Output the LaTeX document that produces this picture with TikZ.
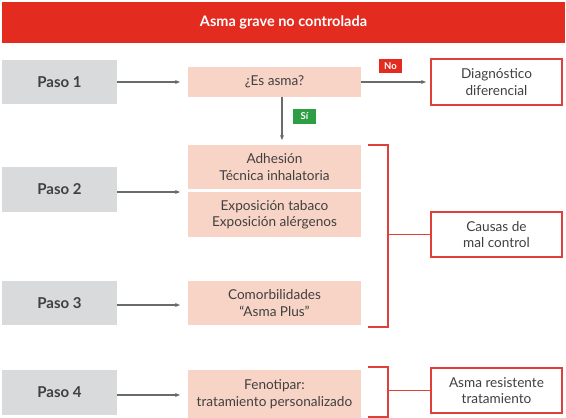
\documentclass[tikz,border=0pt]{standalone}
\usepackage{fontspec}
\setmainfont{Lato}
\usetikzlibrary{arrows.meta,calc}
\definecolor{titred}{HTML}{E32B1F}
\definecolor{pinkbox}{HTML}{F8D4C6}
\definecolor{graybox}{HTML}{D9DADC}
\definecolor{txt}{HTML}{404040}
\definecolor{arrgray}{HTML}{6A6A6A}
\definecolor{linered}{HTML}{E0403A}
\definecolor{okgreen}{HTML}{2E9E45}
\tikzset{
  pasobox/.style={fill=graybox, minimum width=115pt, minimum height=44pt, inner sep=0pt, font=\bfseries\fontsize{15}{17}\selectfont, text=txt},
  pinkb/.style={fill=pinkbox, minimum width=173pt, inner sep=0pt, align=center, font=\fontsize{13.6}{16.5}\selectfont, text=txt},
  redb/.style={draw=linered, line width=1.3pt, fill=white, minimum width=131pt, minimum height=45pt, inner sep=0pt, align=center, font=\fontsize{13.6}{16.5}\selectfont, text=txt},
  tag/.style={minimum width=23pt, minimum height=14pt, inner sep=0pt, text=white, font=\bfseries\fontsize{9.5}{10}\selectfont},
  garrow/.style={draw=arrgray, line width=1.1pt, -{Stealth[length=5pt,width=4pt]}},
  rline/.style={draw=linered, line width=1.4pt}
}
\begin{document}
\begin{tikzpicture}[x=1pt,y=-1pt]
\useasboundingbox (0,0) rectangle (566,418);
% title
\node[fill=titred, minimum width=563pt, minimum height=41pt, inner sep=0pt, text=white, font=\bfseries\fontsize{14.5}{16}\selectfont] (title) at (283.5,22.5) {Asma grave no controlada};
% paso boxes
\node[pasobox] (p1) at (59.5,82) {Paso 1};
\node[pasobox, minimum height=45pt] (p2) at (59.5,189.5) {Paso 2};
\node[pasobox] (p3) at (59.5,303) {Paso 3};
\node[pasobox, minimum height=45pt] (p4) at (59.5,392.5) {Paso 4};
% pink boxes
\node[pinkb, minimum height=30pt] (esasma) at (274.5,82) {¿Es asma?};
\node[pinkb, minimum height=44pt] (adh) at (274.5,167) {Adhesión\\Técnica inhalatoria};
\node[pinkb, minimum height=45pt] (expo) at (274.5,214.5) {Exposición tabaco\\Exposición alérgenos};
\node[pinkb, minimum height=44pt] (comor) at (274.5,303) {Comorbilidades\\“Asma Plus”};
\node[pinkb, minimum height=48pt] (feno) at (274.5,394) {Fenotipar:\\tratamiento personalizado};
% right boxes
\node[redb, minimum height=46pt] (diag) at (496.5,82) {Diagnóstico\\diferencial};
\node[redb] (causas) at (496.5,234.5) {Causas de\\mal control};
\node[redb] (resist) at (496.5,390.5) {Asma resistente\\tratamiento};
% tags
\node[tag, fill=titred] (no) at (390.5,66) {No};
\node[tag, fill=okgreen, minimum height=15pt] (si) at (304.5,116.5) {Sí};
% arrows
\coordinate (t1) at (180,82);
\coordinate (t2) at (180,192);
\coordinate (t3) at (180,305);
\coordinate (t4) at (180,395);
\draw[garrow] (p1.east) -- (t1);
\draw[garrow] (p2.east |- t2) -- (t2);
\draw[garrow] (p3.east |- t3) -- (t3);
\draw[garrow] (p4.east |- t4) -- (t4);
\coordinate (tdown) at (282,140);
\draw[garrow] (esasma.south -| tdown) -- (tdown);
\coordinate (tno) at (426,82);
\draw[garrow] (esasma.east) -- (tno);
% brackets
\coordinate (b1a) at (368,145);
\coordinate (b1b) at (368,327);
\draw[rline] (b1a) -- (388,145) -- (388,327) -- (b1b);
\draw[rline] (388,0 |- causas.west) -- (causas.west);
\coordinate (b2a) at (368,367);
\coordinate (b2b) at (368,417);
\draw[rline] (b2a) -- (388,367) -- (388,417) -- (b2b);
\draw[rline] (388,0 |- resist.west) -- (resist.west);
\end{tikzpicture}
\end{document}
